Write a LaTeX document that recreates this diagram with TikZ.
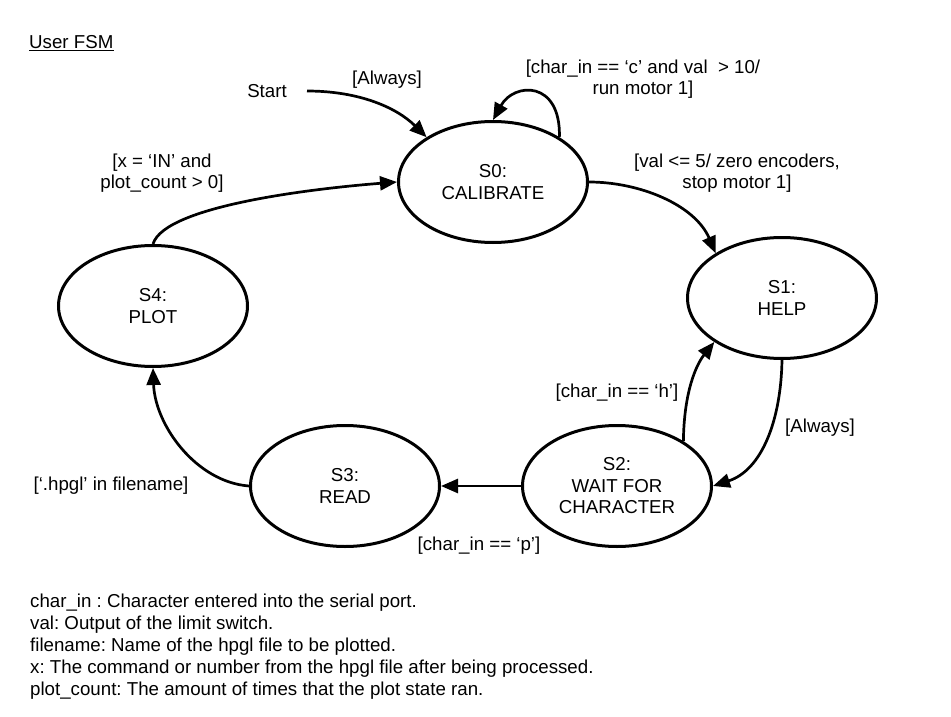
\documentclass[tikz,border=0pt]{standalone}
\usepackage{fontspec}
\setmainfont{Liberation Sans}
\usetikzlibrary{arrows.meta,shapes.geometric}
\frenchspacing
\begin{document}
\begin{tikzpicture}[x=1pt,y=1pt,
  every node/.style={font=\fontsize{18.7}{21.5}\selectfont, inner sep=0pt},
  state/.style={ellipse, draw, line width=3pt, minimum width=189pt, minimum height=121pt, align=center},
  lbl/.style={align=center},
  foot/.style={anchor=base west},
  arr/.style={line width=2.7pt, -{Triangle[length=17pt,width=14pt]}}
]
\useasboundingbox (0,0) rectangle (951,-717);
\fill[white] (0,0) rectangle (951,-717);

% title
\node[anchor=base west] (title) at (29,-48.5) {User FSM};
\draw[line width=1.4pt] ([yshift=-2pt]title.base west) -- ([yshift=-2pt]title.base east);

% states
\node[state] (s0) at (493,-182) {S0:\\CALIBRATE};
\node[state] (s1) at (782,-298) {S1:\\HELP};
\node[state] (s2) at (617,-486) {S2:\\WAIT FOR\\CHARACTER};
\node[state] (s3) at (345,-486) {S3:\\READ};
\node[state] (s4) at (153,-306) {S4:\\PLOT};

% start
\node (start) at (267,-91) {Start};
\coordinate (startpt) at (307,-91);

% connectors
\draw[arr] (startpt) .. controls (360,-91) and (397,-108) .. (s0.146);
\draw[arr] (s0.34) .. controls (561,-80) and (514,-82) .. (s0.north);
\draw[arr] (s0.east) .. controls (640,-182) and (695,-205) .. (s1.146);
\draw[arr] (s1.south) .. controls (781,-420) and (762,-470) .. (s2.east);
\draw[arr] (s2.34) .. controls (684,-392) and (696,-365) .. (s1.213);
\draw[arr] (s2.west) -- (s3.east);
\draw[arr] (s3.west) .. controls (196,-482) and (155,-425) .. (s4.south);
\draw[arr] (s4.north) .. controls (165,-205) and (320,-188) .. (s0.west);

% labels
\node[lbl] (lalways0) at (387,-80) {[Always]};
\node[lbl] (lloop) at (643,-79) {[char\_in == ‘c’ and val~ > 10/\\run motor 1]};
\node[lbl] (lval) at (737,-173) {[val <= 5/ zero encoders,\\stop motor 1]};
\node[lbl] (lx) at (162,-173) {[x = ‘IN’ and\\plot\_count > 0]};
\node[lbl] (lhpgl) at (111,-486) {[‘.hpgl’ in filename]};
\node[lbl] (lh) at (617,-393) {[char\_in == ‘h’]};
\node[lbl] (lalways1) at (820,-428) {[Always]};
\node[lbl] (lp) at (479,-546) {[char\_in == ‘p’]};

% footer
\node[foot] (f1) at (30,-607.5) {char\_in : Character entered into the serial port.};
\node[foot] (f2) at (30,-629.5) {val: Output of the limit switch.};
\node[foot] (f3) at (30,-651.5) {filename: Name of the hpgl file to be plotted.};
\node[foot] (f4) at (30,-673.5) {x: The command or number from the hpgl file after being processed.};
\node[foot] (f5) at (30,-695) {plot\_count: The amount of times that the plot state ran.};
\end{tikzpicture}
\end{document}
